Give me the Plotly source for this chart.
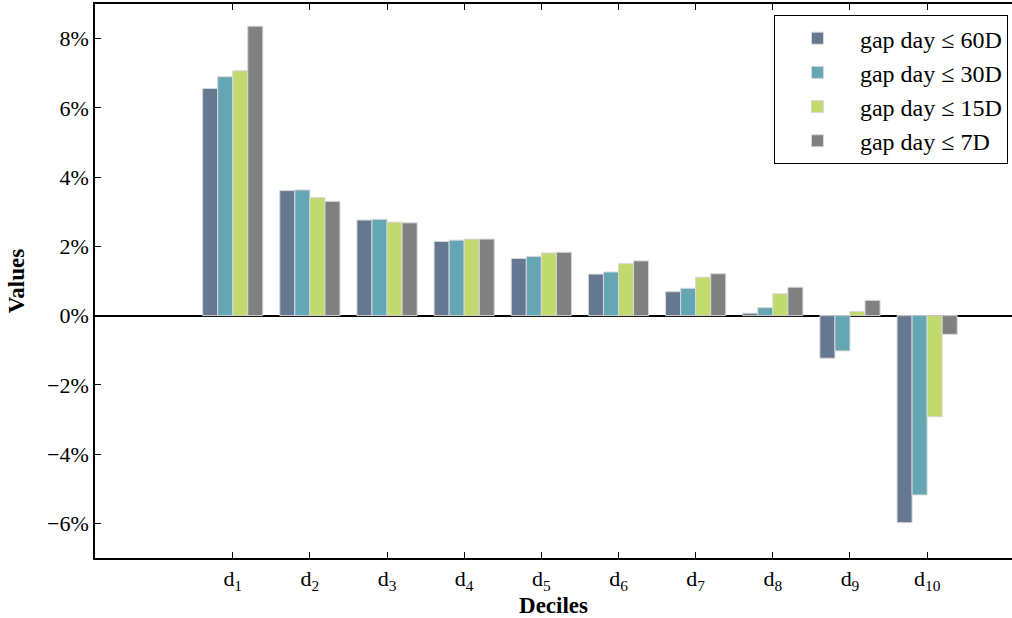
import plotly.graph_objects as go

deciles = [1, 2, 3, 4, 5, 6, 7, 8, 9, 10]
decile_labels = ["d<sub>%d</sub>" % i for i in deciles]

series_names = ["gap day \u2264 60D", "gap day \u2264 30D", "gap day \u2264 15D", "gap day \u2264 7D"]
gap60 = [6.56, 3.61, 2.76, 2.14, 1.65, 1.20, 0.69, 0.07, -1.23, -5.98]
gap30 = [6.90, 3.63, 2.78, 2.18, 1.71, 1.26, 0.79, 0.23, -1.02, -5.18]
gap15 = [7.07, 3.41, 2.70, 2.21, 1.81, 1.50, 1.11, 0.63, 0.12, -2.92]
gap7 = [8.36, 3.30, 2.68, 2.21, 1.83, 1.58, 1.21, 0.82, 0.44, -0.54]
colors = ["#667792", "#65a6b5", "#c2d96e", "#808080"]

y_ticks = [-6, -4, -2, 0, 2, 4, 6, 8]
y_tick_labels = ["\u22126%", "\u22124%", "\u22122%", "0%", "2%", "4%", "6%", "8%"]

font_family = "Liberation Serif, DejaVu Serif, serif"

fig = go.Figure()
for i, (name, vals, col) in enumerate(zip(series_names, [gap60, gap30, gap15, gap7], colors)):
    fig.add_trace(go.Bar(
        x=deciles, y=vals, name=name, legendgroup="g%d" % i,
        marker=dict(color=col, line=dict(color="#d8d8d8", width=1)),
    ))

fig.update_layout(
    width=1012, height=618,
    margin=dict(l=95, r=0, t=4, b=60),
    paper_bgcolor="white", plot_bgcolor="white",
    barmode="group", bargap=0.22, bargroupgap=0,
    font=dict(family=font_family, size=21, color="black"),
    showlegend=True,
    legend=dict(
        x=0.9956, y=0.98, xanchor="right", yanchor="top",
        bgcolor="white", bordercolor="black", borderwidth=1,
        font=dict(family=font_family, size=24, color="black"),
        tracegroupgap=0, itemwidth=75,
    ),
    xaxis=dict(
        range=[-0.785, 11.1],
        tickmode="array", tickvals=deciles, ticktext=decile_labels,
        ticks="inside", ticklen=6, tickwidth=1, tickcolor="black",
        showline=True, linecolor="black", linewidth=1.5, mirror="ticks",
        showgrid=False, zeroline=False,
        tickfont=dict(family=font_family, size=22),
        title=dict(text="<b>Deciles</b>", font=dict(family=font_family, size=23), standoff=4),
    ),
    yaxis=dict(
        range=[-7, 9],
        tickmode="array", tickvals=y_ticks, ticktext=y_tick_labels,
        ticks="inside", ticklen=6, tickwidth=1, tickcolor="black",
        showline=True, linecolor="black", linewidth=1.5, mirror=False,
        showgrid=False,
        zeroline=True, zerolinecolor="black", zerolinewidth=1.5,
        tickfont=dict(family=font_family, size=22),
        title=dict(text="<b>Values</b>", font=dict(family=font_family, size=23), standoff=16),
    ),
)

fig.write_html(
    "out.html",
    config={"displayModeBar": False},
    post_script="document.body.style.margin='0';document.body.style.overflow='hidden';",
)
